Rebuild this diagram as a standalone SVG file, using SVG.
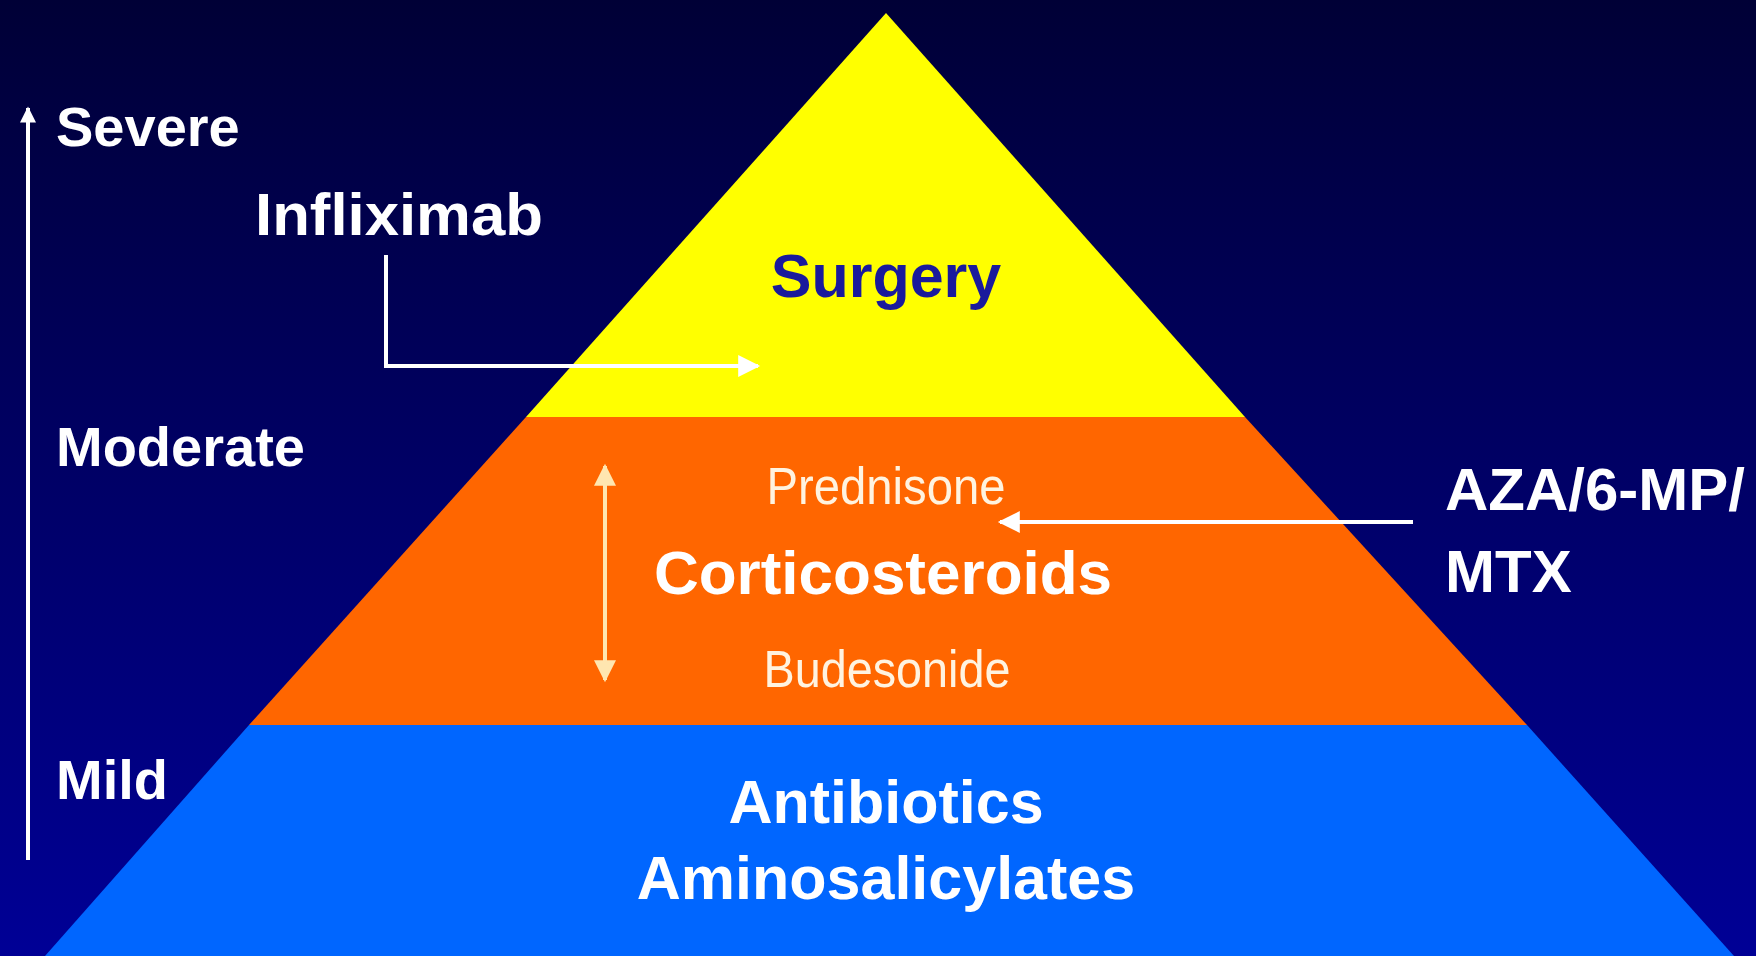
<svg xmlns="http://www.w3.org/2000/svg" width="1756" height="956" viewBox="0 0 1756 956">
<defs>
<linearGradient id="bg" x1="0" y1="0" x2="0" y2="1">
<stop offset="0" stop-color="#000036"/>
<stop offset="1" stop-color="#000096"/>
</linearGradient>
<marker id="ahs" viewBox="0 0 10 10" refX="9" refY="5" markerWidth="4.5" markerHeight="4" orient="auto-start-reverse" markerUnits="strokeWidth">
<path d="M0,0 L10,5 L0,10 Z" fill="#ffffff"/>
</marker>
<marker id="ah" viewBox="0 0 10 10" refX="9" refY="5" markerWidth="6.5" markerHeight="5.5" orient="auto-start-reverse" markerUnits="strokeWidth">
<path d="M0,0 L10,5 L0,10 Z" fill="#ffffff"/>
</marker>
<marker id="ahc" viewBox="0 0 10 10" refX="9" refY="5" markerWidth="6.5" markerHeight="5.5" orient="auto-start-reverse" markerUnits="strokeWidth">
<path d="M0,0 L10,5 L0,10 Z" fill="#ffe6b0"/>
</marker>
</defs>
<style>
text{font-family:"Liberation Sans",Arial,Helvetica,sans-serif;font-weight:bold;fill:#ffffff}
.mid{text-anchor:middle}
.reg{font-weight:normal;fill:#fff3e0}
.conn{fill:none;stroke:#ffffff;stroke-width:4}
</style>
<rect width="1756" height="956" fill="url(#bg)"/>
<g id="tier-base">
<polygon points="249,725 1527,725 1734,956 45,956" fill="#0066ff"/>
<text class="mid" x="886" y="823" font-size="61">Antibiotics</text>
<text class="mid" x="886" y="899" font-size="61">Aminosalicylates</text>
</g>
<g id="tier-middle">
<polygon points="526,417 1245,417 1527,725 249,725" fill="#ff6600"/>
<text class="mid reg" x="886" y="504" font-size="52" textLength="239" lengthAdjust="spacingAndGlyphs">Prednisone</text>
<text class="mid" x="883" y="594" font-size="62">Corticosteroids</text>
<text class="mid reg" x="887" y="687" font-size="52" textLength="247" lengthAdjust="spacingAndGlyphs">Budesonide</text>
</g>
<g id="tier-top">
<polygon points="886,13 1245,417 526,417" fill="#ffff00"/>
<text class="mid" x="886" y="297" font-size="61" style="fill:#1a1a9c">Surgery</text>
</g>
<g id="labels">
<text x="56" y="146" font-size="56">Severe</text>
<text x="56" y="466" font-size="56">Moderate</text>
<text x="56" y="799" font-size="56">Mild</text>
<text x="255" y="235" font-size="60" textLength="288" lengthAdjust="spacingAndGlyphs">Infliximab</text>
<text x="1445" y="510" font-size="60">AZA/6-MP/</text>
<text x="1445" y="592" font-size="60">MTX</text>
</g>
<g id="connectors">
<line class="conn" x1="28" y1="860" x2="28" y2="108" marker-end="url(#ahs)"/>
<polyline class="conn" points="386,255 386,366 758,366" marker-end="url(#ah)"/>
<line class="conn" x1="1413" y1="522" x2="1000" y2="522" marker-end="url(#ah)"/>
<line class="conn" x1="605" y1="466" x2="605" y2="680" style="stroke:#ffe6b0" marker-start="url(#ahc)" marker-end="url(#ahc)"/>
</g>
</svg>
